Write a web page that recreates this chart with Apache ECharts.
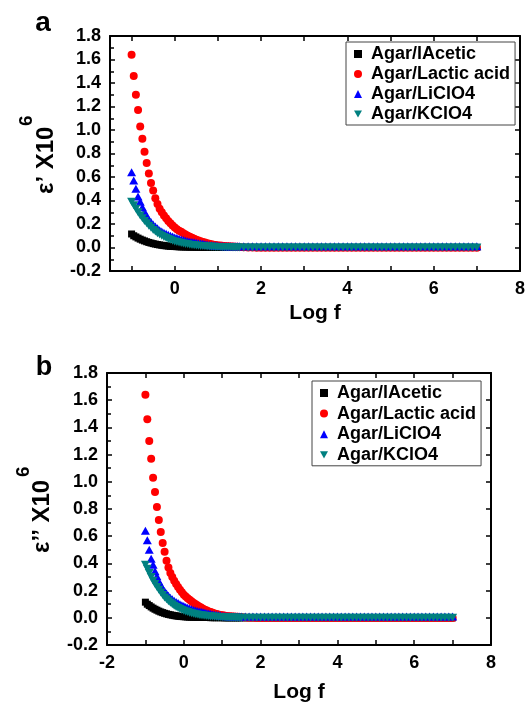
<!DOCTYPE html>
<html>
<head>
<meta charset="utf-8">
<script src="https://cdn.jsdelivr.net/npm/echarts@6/dist/echarts.min.js"></script>
<style>
  html, body { margin: 0; padding: 0; background: #ffffff; }
  #chart { width: 528px; height: 705px; }
</style>
</head>
<body>
<div id="chart"></div>
<script>
// log10 of frequency (Hz) for every measured point
const logF = [
  -1.00,-0.95,-0.90,-0.85,-0.80,-0.75,-0.70,-0.65,-0.60,-0.55,
  -0.50,-0.45,-0.40,-0.35,-0.30,-0.25,-0.20,-0.15,-0.10,-0.05,
   0.00, 0.05, 0.10, 0.15, 0.20, 0.25, 0.30, 0.35, 0.40, 0.45,
   0.50, 0.55, 0.60, 0.65, 0.70, 0.75, 0.80, 0.85, 0.90, 0.95,
   1.00, 1.05, 1.10, 1.15, 1.20, 1.25, 1.30, 1.35, 1.40, 1.45,
   1.50,
   1.6,1.7,1.8,1.9,
   2.0,2.1,2.2,2.3,2.4,2.5,2.6,2.7,2.8,2.9,
   3.0,3.1,3.2,3.3,3.4,3.5,3.6,3.7,3.8,3.9,
   4.0,4.1,4.2,4.3,4.4,4.5,4.6,4.7,4.8,4.9,
   5.0,5.1,5.2,5.3,5.4,5.5,5.6,5.7,5.8,5.9,
   6.0,6.1,6.2,6.3,6.4,6.5,6.6,6.7,6.8,6.9,
   7.0
];

// (a) real part of permittivity, eps' x 10^6
const realAcetic = [
  0.115,0.100,0.090,0.080,0.071,0.063,0.056,0.049,0.043,0.038,
  0.033,0.029,0.025,0.022,0.019,0.016,0.014,0.012,0.010,0.009,
  0.008,0.007,0.006,0.005,0.005,0.004,0.004,0.003,0.003,0.003,
  0.002,0.002,0.002,0.002,0.001,0.001,0.001,0.001,0.001,0.001,
  0.001,0,0,0,0,0,0,0,0,0,
  0,
  0,0,0,0,
  0,0,0,0,0,0,0,0,0,0,
  0,0,0,0,0,0,0,0,0,0,
  0,0,0,0,0,0,0,0,0,0,
  0,0,0,0,0,0,0,0,0,0,
  0,0,0,0,0,0,0,0,0,0,
  0
];
const realLactic = [
  1.64,1.46,1.30,1.17,1.03,0.925,0.815,0.72,0.63,0.55,
  0.485,0.42,0.37,0.33,0.30,0.272,0.248,0.226,0.206,0.188,
  0.170,0.156,0.143,0.133,0.122,0.111,0.101,0.092,0.083,0.075,
  0.067,0.059,0.053,0.047,0.042,0.037,0.032,0.028,0.024,0.021,
  0.018,0.016,0.014,0.012,0.011,0.010,0.009,0.008,0.007,0.006,
  0.005,
  0.003,0.001,0,-0.002,
  -0.002,-0.002,-0.002,-0.002,-0.002,-0.002,-0.002,-0.002,-0.002,-0.002,
  -0.002,-0.002,-0.002,-0.002,-0.002,-0.002,-0.002,-0.002,-0.002,-0.002,
  -0.002,-0.002,-0.002,-0.002,-0.002,-0.002,-0.002,-0.002,-0.002,-0.002,
  -0.002,-0.002,-0.002,-0.002,-0.002,-0.002,-0.002,-0.002,-0.002,-0.002,
  -0.002,-0.002,-0.002,-0.002,-0.002,-0.002,-0.002,-0.002,-0.002,-0.002,
  -0.002
];
const realLiClO4 = [
  0.64,0.57,0.50,0.435,0.39,0.342,0.305,0.268,0.241,0.216,
  0.195,0.178,0.163,0.147,0.136,0.126,0.117,0.108,0.100,0.093,
  0.086,0.080,0.074,0.068,0.063,0.058,0.054,0.050,0.047,0.044,
  0.041,0.037,0.034,0.031,0.028,0.025,0.022,0.020,0.018,0.016,
  0.014,0.013,0.012,0.011,0.010,0.010,0.010,0.010,0.010,0.010,
  0.010,
  0.010,0.010,0.010,0.010,
  0.010,0.010,0.010,0.010,0.010,0.010,0.010,0.010,0.010,0.010,
  0.010,0.010,0.010,0.010,0.010,0.010,0.010,0.010,0.010,0.010,
  0.010,0.010,0.010,0.010,0.010,0.010,0.010,0.010,0.010,0.010,
  0.010,0.010,0.010,0.010,0.010,0.010,0.010,0.010,0.010,0.010,
  0.010,0.010,0.010,0.010,0.010,0.010,0.010,0.010,0.010,0.010,
  0.010
];
const realKClO4 = [
  0.39,0.36,0.33,0.30,0.272,0.248,0.226,0.206,0.186,0.168,
  0.150,0.136,0.122,0.110,0.099,0.089,0.080,0.072,0.065,0.058,
  0.052,0.047,0.042,0.038,0.034,0.030,0.027,0.024,0.021,0.019,
  0.017,0.015,0.013,0.012,0.010,0.009,0.008,0.007,0.006,0.005,
  0.004,0.004,0.003,0.003,0.002,0.002,0.002,0.001,0.001,0.001,
  0.001,
  0,0,0,0,
  0,0,0,0,0,0,0,0,0,0,
  0,0,0,0,0,0,0,0,0,0,
  0,0,0,0,0,0,0,0,0,0,
  0,0,0,0,0,0,0,0,0,0,
  0,0,0,0,0,0,0,0,0,0,
  0
];

// (b) imaginary part of permittivity, eps'' x 10^6
const lossAcetic = [
  0.115,0.100,0.090,0.080,0.071,0.063,0.056,0.049,0.043,0.038,
  0.033,0.029,0.025,0.022,0.019,0.016,0.014,0.012,0.010,0.009,
  0.008,0.007,0.006,0.005,0.005,0.004,0.004,0.003,0.003,0.003,
  0.002,0.002,0.002,0.002,0.001,0.001,0.001,0.001,0.001,0.001,
  0.001,0,0,0,0,0,0,0,0,0,
  0,
  0,0,0,0,
  0,0,0,0,0,0,0,0,0,0,
  0,0,0,0,0,0,0,0,0,0,
  0,0,0,0,0,0,0,0,0,0,
  0,0,0,0,0,0,0,0,0,0,
  0,0,0,0,0,0,0,0,0,0,
  0
];
const lossLactic = [
  1.64,1.46,1.30,1.17,1.03,0.925,0.815,0.72,0.63,0.55,
  0.485,0.42,0.37,0.33,0.30,0.272,0.248,0.226,0.206,0.188,
  0.170,0.156,0.143,0.133,0.122,0.111,0.101,0.092,0.083,0.075,
  0.067,0.059,0.053,0.047,0.042,0.037,0.032,0.028,0.024,0.021,
  0.018,0.016,0.014,0.012,0.011,0.010,0.009,0.008,0.007,0.006,
  0.005,
  0.003,0.001,0,-0.002,
  -0.002,-0.002,-0.002,-0.002,-0.002,-0.002,-0.002,-0.002,-0.002,-0.002,
  -0.002,-0.002,-0.002,-0.002,-0.002,-0.002,-0.002,-0.002,-0.002,-0.002,
  -0.002,-0.002,-0.002,-0.002,-0.002,-0.002,-0.002,-0.002,-0.002,-0.002,
  -0.002,-0.002,-0.002,-0.002,-0.002,-0.002,-0.002,-0.002,-0.002,-0.002,
  -0.002,-0.002,-0.002,-0.002,-0.002,-0.002,-0.002,-0.002,-0.002,-0.002,
  -0.002
];
const lossLiClO4 = [
  0.64,0.57,0.50,0.435,0.39,0.342,0.305,0.268,0.241,0.216,
  0.195,0.178,0.163,0.147,0.136,0.126,0.117,0.108,0.100,0.093,
  0.086,0.080,0.074,0.068,0.063,0.058,0.054,0.050,0.047,0.044,
  0.041,0.037,0.034,0.031,0.028,0.025,0.022,0.020,0.018,0.016,
  0.014,0.013,0.012,0.011,0.010,0.010,0.010,0.010,0.010,0.010,
  0.010,
  0.010,0.010,0.010,0.010,
  0.010,0.010,0.010,0.010,0.010,0.010,0.010,0.010,0.010,0.010,
  0.010,0.010,0.010,0.010,0.010,0.010,0.010,0.010,0.010,0.010,
  0.010,0.010,0.010,0.010,0.010,0.010,0.010,0.010,0.010,0.010,
  0.010,0.010,0.010,0.010,0.010,0.010,0.010,0.010,0.010,0.010,
  0.010,0.010,0.010,0.010,0.010,0.010,0.010,0.010,0.010,0.010,
  0.010
];
const lossKClO4 = [
  0.39,0.36,0.33,0.30,0.272,0.248,0.226,0.206,0.186,0.168,
  0.150,0.136,0.122,0.110,0.099,0.089,0.080,0.072,0.065,0.058,
  0.052,0.047,0.042,0.038,0.034,0.030,0.027,0.024,0.021,0.019,
  0.017,0.015,0.013,0.012,0.010,0.009,0.008,0.007,0.006,0.005,
  0.004,0.004,0.003,0.003,0.002,0.002,0.002,0.001,0.001,0.001,
  0.001,
  0,0,0,0,
  0,0,0,0,0,0,0,0,0,0,
  0,0,0,0,0,0,0,0,0,0,
  0,0,0,0,0,0,0,0,0,0,
  0,0,0,0,0,0,0,0,0,0,
  0,0,0,0,0,0,0,0,0,0,
  0
];

const seriesNames = ['Agar/lAcetic', 'Agar/Lactic acid', 'Agar/LiClO4', 'Agar/KClO4'];

// axis ticks and labels
const xTicksA  = [-1, 0, 1, 2, 3, 4, 5, 6, 7, 8];
const xLabelsA = [0, 2, 4, 6, 8];
const xTicksB  = [-2, -1, 0, 1, 2, 3, 4, 5, 6, 7, 8];
const xLabelsB = [-2, 0, 2, 4, 6, 8];

const FONT = '"Liberation Sans", Arial, Helvetica, sans-serif';
const INK = '#000000';

// marker shapes: square, circle, up-triangle, down-triangle
const DOWN_TRIANGLE = 'path://M0,0L10,0L5,9Z';
const markers = [
  { symbol: 'rect',        symbolSize: 7,      color: '#000000' },
  { symbol: 'circle',      symbolSize: 8,      color: '#ff0000' },
  { symbol: 'triangle',    symbolSize: [9, 8], color: '#0000ff' },
  { symbol: DOWN_TRIANGLE, symbolSize: [9, 8], color: '#008080' }
];

function toPoints(values) {
  return logF.map((x, i) => [x, values[i]]);
}

function scatterSeries(valueSets, axisIdx) {
  return valueSets.map((vals, k) => ({
    name: seriesNames[k],
    type: 'scatter',
    xAxisIndex: axisIdx,
    yAxisIndex: axisIdx,
    symbol: markers[k].symbol,
    symbolSize: markers[k].symbolSize,
    itemStyle: { color: markers[k].color, opacity: 1 },
    emphasis: { disabled: true },
    z: 2 + k,
    data: toPoints(vals)
  }));
}

const tickLine = { color: INK, width: 1.5 };
const boxLine = { show: true, onZero: false, lineStyle: { color: INK, width: 2 } };
const labelText = { fontSize: 18, fontWeight: 'bold', fontFamily: FONT, color: INK };

function xBottom(grid, min, max, ticks, labels, gap) {
  return {
    gridIndex: grid, type: 'value', position: 'bottom', min: min, max: max,
    axisLine: boxLine,
    axisTick: { show: true, inside: true, length: 5, customValues: ticks, lineStyle: tickLine },
    axisLabel: Object.assign({ show: true, margin: 9, customValues: labels }, labelText),
    splitLine: { show: false },
    name: 'Log f', nameLocation: 'middle', nameGap: gap,
    nameTextStyle: { fontSize: 21, fontWeight: 'bold', fontFamily: FONT, color: INK }
  };
}
function xTop(grid, min, max, ticks) {
  return {
    gridIndex: grid, type: 'value', position: 'top', min: min, max: max,
    axisLine: boxLine,
    axisTick: { show: true, inside: true, length: 5, customValues: ticks, lineStyle: tickLine },
    axisLabel: { show: false },
    splitLine: { show: false }
  };
}
function yLeft(grid) {
  return {
    gridIndex: grid, type: 'value', position: 'left', min: -0.2, max: 1.8, interval: 0.2,
    axisLine: boxLine,
    axisTick: { show: true, inside: true, length: 5, lineStyle: tickLine },
    minorTick: { show: true, splitNumber: 2, length: 4, lineStyle: tickLine },
    axisLabel: Object.assign({ show: true, margin: 9, formatter: v => v.toFixed(1) }, labelText),
    splitLine: { show: false }
  };
}
function yRight(grid) {
  return {
    gridIndex: grid, type: 'value', position: 'right', min: -0.2, max: 1.8, interval: 0.2,
    axisLine: boxLine,
    axisTick: { show: true, inside: true, length: 5, lineStyle: tickLine },
    axisLabel: { show: false },
    splitLine: { show: false }
  };
}

function legendAt(left, top, gap) {
  return {
    orient: 'vertical', left: left, top: top,
    data: seriesNames,
    itemWidth: 8, itemHeight: 8, itemGap: gap,
    padding: [3, 5, 2, 8],
    borderColor: '#444444', borderWidth: 1, backgroundColor: '#ffffff',
    selectedMode: false,
    textStyle: { fontSize: 18, fontWeight: 'bold', fontFamily: FONT, color: INK, lineHeight: 18, padding: [0, 0, 0, 4] }
  };
}

const chart = echarts.init(document.getElementById('chart'), null, { renderer: 'canvas' });

chart.setOption({
  animation: false,
  backgroundColor: '#ffffff',
  grid: [
    { left: 110, top: 36, width: 415, height: 235, containLabel: false },
    { left: 107, top: 373, width: 384, height: 272, containLabel: false }
  ],
  xAxis: [
    xBottom(0, -1.5, 8, xTicksA, xLabelsA, 32),
    xTop(0, -1.5, 8, xTicksA),
    xBottom(1, -2, 8, xTicksB, xLabelsB, 37),
    xTop(1, -2, 8, xTicksB)
  ],
  yAxis: [yLeft(0), yRight(0), yLeft(1), yRight(1)],
  legend: [legendAt(346, 42, 2), legendAt(312, 381, 2.6)],
  graphic: [
    { type: 'text', x: 43, y: 23, style: { text: 'a', font: 'bold 28px ' + FONT, fill: INK, textAlign: 'center', textVerticalAlign: 'middle' } },
    { type: 'text', x: 44, y: 368, style: { text: 'b', font: 'bold 27px ' + FONT, fill: INK, textAlign: 'center', textVerticalAlign: 'middle' } },
    { type: 'text', x: 46, y: 194, rotation: Math.PI / 2, style: { text: 'ε’ X10', font: 'bold 24px ' + FONT, fill: INK, textAlign: 'left', textVerticalAlign: 'middle' } },
    { type: 'text', x: 27, y: 126, rotation: Math.PI / 2, style: { text: '6', font: 'bold 19px ' + FONT, fill: INK, textAlign: 'left', textVerticalAlign: 'middle' } },
    { type: 'text', x: 42, y: 553, rotation: Math.PI / 2, style: { text: 'ε’’ X10', font: 'bold 24px ' + FONT, fill: INK, textAlign: 'left', textVerticalAlign: 'middle' } },
    { type: 'text', x: 24, y: 477, rotation: Math.PI / 2, style: { text: '6', font: 'bold 19px ' + FONT, fill: INK, textAlign: 'left', textVerticalAlign: 'middle' } }
  ],
  series: scatterSeries([realAcetic, realLactic, realLiClO4, realKClO4], 0)
    .concat(scatterSeries([lossAcetic, lossLactic, lossLiClO4, lossKClO4], 2))
});
</script>
</body>
</html>
